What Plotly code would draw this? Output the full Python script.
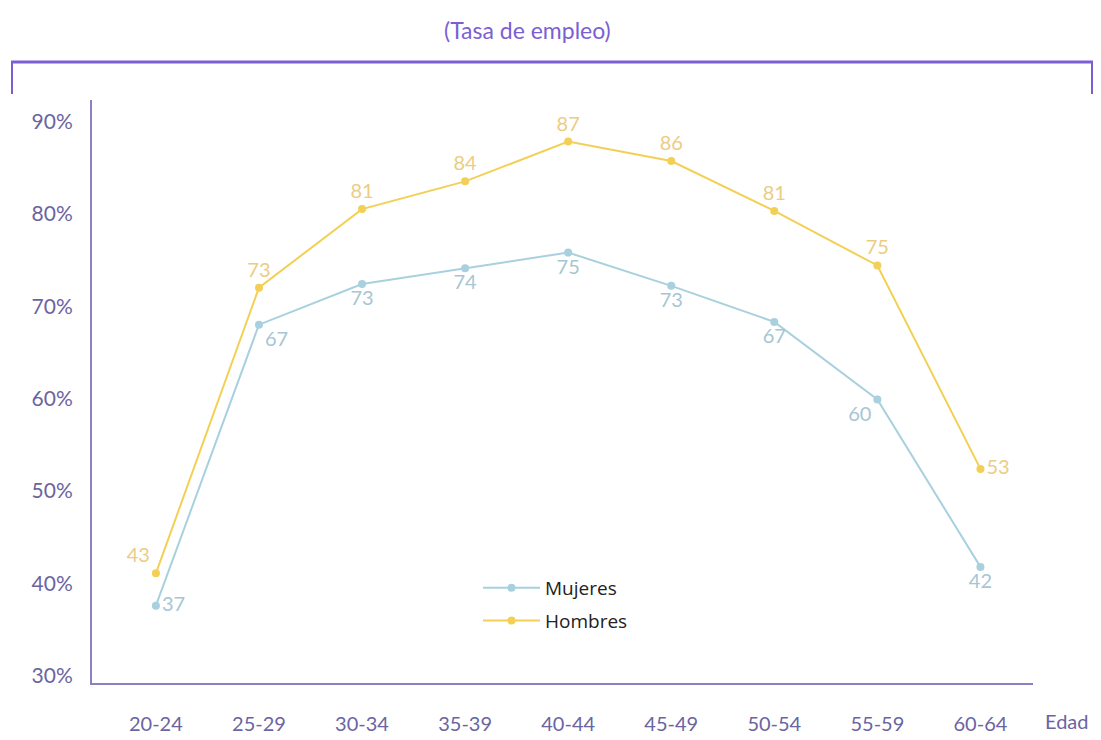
import plotly.graph_objects as go

categories = ["20-24", "25-29", "30-34", "35-39", "40-44", "45-49", "50-54", "55-59", "60-64"]
mujeres_vals = [37.6, 68.0, 72.4, 74.1, 75.8, 72.2, 68.3, 59.9, 41.8]
mujeres_lbls = ["37", "67", "73", "74", "75", "73", "67", "60", "42"]
hombres_vals = [41.1, 72.0, 80.5, 83.5, 87.8, 85.7, 80.3, 74.4, 52.4]
hombres_lbls = ["43", "73", "81", "84", "87", "86", "81", "75", "53"]
yticks = [30, 40, 50, 60, 70, 80, 90]
ytick_text = ["30%", "40%", "50%", "60%", "70%", "80%", "90%"]

muj_pos = ["middle right", "bottom right", "bottom center", "bottom center", "bottom center",
           "bottom center", "bottom center", "bottom left", "bottom center"]
hom_pos = ["top left", "top center", "top center", "top center", "top center",
           "top center", "top center", "top center", "middle right"]

MUJ = "#a9d0de"
HOM = "#f3d055"
AXIS = "#8a82c0"
TICK = "#6b64a2"
PURPLE = "#7b5fd3"

# page has an 8px body margin; figure pixel = screen pixel - 8
W, H = 1085, 740
L, R, T, B = 84, 60, 92, 65
PW, PH = W - L - R, H - T - B


def px(sx):
    return (sx - 8 - L) / PW


def py(sy):
    return 1 - (sy - 8 - T) / PH


fig = go.Figure()
fig.add_trace(go.Scatter(
    x=categories, y=mujeres_vals, name="Mujeres", mode="lines+markers+text",
    text=mujeres_lbls, textposition=muj_pos, legendgroup="m",
    textfont=dict(color="#a6c6d3", size=20, family="Lato"),
    line=dict(color=MUJ, width=2), marker=dict(size=8, color=MUJ),
))
fig.add_trace(go.Scatter(
    x=categories, y=hombres_vals, name="Hombres", mode="lines+markers+text",
    text=hombres_lbls, textposition=hom_pos, legendgroup="h",
    textfont=dict(color="#ebcd82", size=20, family="Lato"),
    line=dict(color=HOM, width=2), marker=dict(size=8, color=HOM),
))

fig.update_layout(
    width=W, height=H,
    margin=dict(l=L, r=R, t=T, b=B),
    plot_bgcolor="white", paper_bgcolor="white",
    font=dict(family="Lato", color=TICK),
    showlegend=True,
    legend=dict(x=px(478), y=py(569), xanchor="left", yanchor="top",
                font=dict(size=19, color="#222222", family="Open Sans"),
                bgcolor="rgba(0,0,0,0)", tracegroupgap=5, itemwidth=57),
    xaxis=dict(type="category", range=[-0.62, 8.51], showgrid=False, zeroline=False,
               showline=True, linecolor=AXIS, linewidth=2, ticks="", automargin=False,
               ticklabelstandoff=22,
               tickfont=dict(size=20, color=TICK, family="Lato")),
    yaxis=dict(range=[29.24, 92.3], tickvals=yticks, ticktext=ytick_text,
               showgrid=False, zeroline=False, showline=True, linecolor=AXIS, linewidth=2,
               ticks="", ticklabelstandoff=13, automargin=False,
               tickfont=dict(size=21, color=TICK, family="Lato")),
    annotations=[
        dict(text="(Tasa de empleo)", x=px(527), y=py(30), xanchor="center", yanchor="middle",
             xref="paper", yref="paper", showarrow=False,
             font=dict(size=23, color=PURPLE, family="Lato")),
        dict(text="Edad", x=px(1066), y=py(721), xanchor="center", yanchor="middle",
             xref="paper", yref="paper", showarrow=False,
             font=dict(size=20, color=TICK, family="Lato")),
    ],
    shapes=[
        dict(type="line", xref="paper", yref="paper",
             x0=px(11), x1=px(1093), y0=py(62), y1=py(62),
             line=dict(color=PURPLE, width=3)),
        dict(type="line", xref="paper", yref="paper",
             x0=px(12), x1=px(12), y0=py(62), y1=py(94),
             line=dict(color=PURPLE, width=2)),
        dict(type="line", xref="paper", yref="paper",
             x0=px(1092), x1=px(1092), y0=py(62), y1=py(94),
             line=dict(color=PURPLE, width=2)),
    ],
)

fig.write_html("out.html")
